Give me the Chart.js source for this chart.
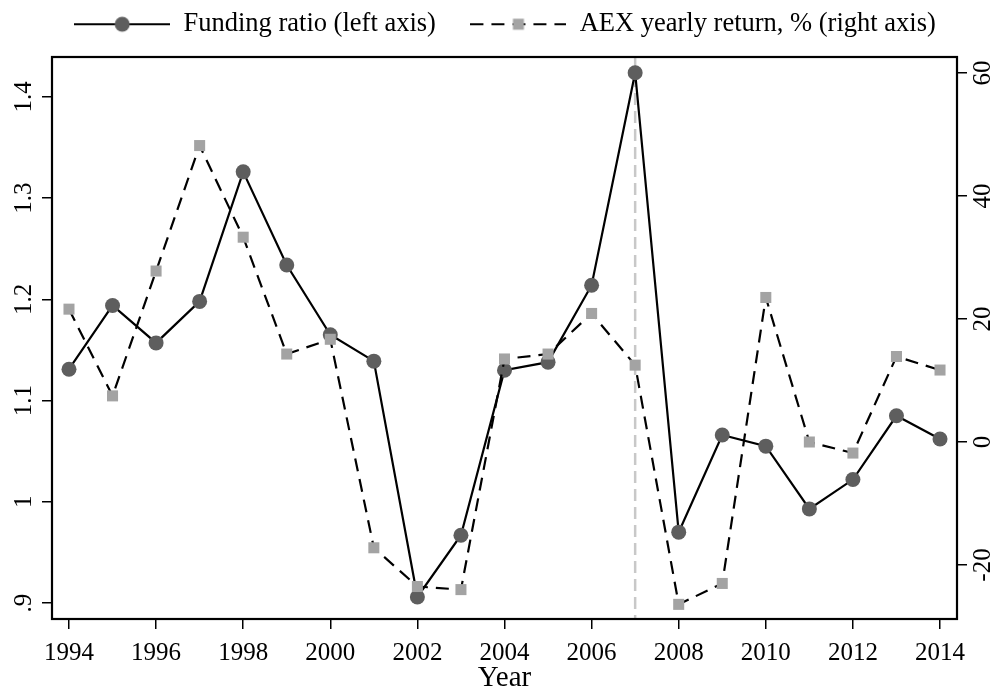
<!DOCTYPE html>
<html>
<head>
<meta charset="utf-8">
<script src="https://cdn.jsdelivr.net/npm/chart.js@4.4.1/dist/chart.umd.min.js"></script>
<style>
html, body { margin: 0; padding: 0; background: #fff; }
</style>
</head>
<body>
<canvas id="grafico" width="1000" height="691"></canvas>
<script>
// Years
const anos = [
1994,1995,1996,1997,1998,1999,2000,2001,2002,2003,
2004,2005,2006,2007,2008,2009,2010,2011,2012,2013,2014
];

// Funding ratio (left axis)
const fundingRatio = [
1.131,1.194,1.157,1.198,1.326,1.234,1.165,1.139,0.906,0.967,
1.130,1.138,1.214,1.424,0.970,1.066,1.055,0.993,1.022,1.085,1.062
];

// AEX yearly return, % (right axis)
const aexReturn = [
21.6,7.5,27.8,48.2,33.3,14.3,16.7,-17.2,-23.5,-24.0,
13.5,14.3,20.9,12.5,-26.4,-23.0,23.5,0.0,-1.8,13.9,11.7
];

// Tick labels
const xTicks = [1994,1996,1998,2000,2002,2004,2006,2008,2010,2012,2014];
const leftTicks = [0.9,1.0,1.1,1.2,1.3,1.4];
const rightTicks = [-20,0,20,40,60];
const lineaVertical = 2007;

const serif = '"Liberation Serif", "Times New Roman", serif';
Chart.defaults.font.family = serif;
Chart.defaults.color = '#000';

// legend swatch: line with marker in the middle
function muestra(dashed, marker) {
    const c = document.createElement('canvas');
    c.width = 96; c.height = 20;
    const g = c.getContext('2d');
    g.strokeStyle = '#000';
    g.lineWidth = 2.2;
    if (dashed) g.setLineDash([13, 8]);
    g.beginPath(); g.moveTo(0, 10); g.lineTo(96, 10); g.stroke();
    if (marker === 'circle') {
        g.fillStyle = '#5e5e5e';
        g.beginPath(); g.arc(48, 10, 7.5, 0, 2 * Math.PI); g.fill();
    } else {
        g.fillStyle = '#a3a3a3';
        g.fillRect(48 - 5.5, 10 - 5.5, 11, 11);
    }
    return c;
}

const marco = {
    id: 'marco',
    afterInit(chart) {
        const lg = chart.legend;
        const fitOrig = lg.fit.bind(lg);
        lg.fit = function () { fitOrig(); this.height = 54; };
    },
    beforeDatasetsDraw(chart) {
        const {ctx, chartArea, scales} = chart;
        const x = scales.x.getPixelForValue(lineaVertical);
        ctx.save();
        ctx.strokeStyle = '#c8c8c8';
        ctx.lineWidth = 2.5;
        ctx.setLineDash([12, 6]);
        ctx.beginPath();
        ctx.moveTo(x, chartArea.top);
        ctx.lineTo(x, chartArea.bottom);
        ctx.stroke();
        ctx.restore();
    },
    afterDatasetsDraw(chart) {
        const {ctx, chartArea} = chart;
        ctx.save();
        ctx.strokeStyle = '#000';
        ctx.lineWidth = 2.2;
        ctx.strokeRect(chartArea.left, chartArea.top, chartArea.right - chartArea.left, chartArea.bottom - chartArea.top);
        ctx.restore();
    }
};

const tickGrid = { drawOnChartArea: false, drawTicks: true, tickLength: 10, color: '#000', lineWidth: 1.5 };

new Chart(document.getElementById('grafico'), {
    type: 'line',
    data: {
        datasets: [{
            label: 'Funding ratio (left axis)',
            data: anos.map((a, i) => ({ x: a, y: fundingRatio[i] })),
            yAxisID: 'y',
            borderColor: '#000',
            borderWidth: 2.2,
            pointStyle: 'circle',
            pointRadius: 7.5,
            pointBorderWidth: 0,
            pointBackgroundColor: '#5e5e5e',
            order: 1
        }, {
            label: 'AEX yearly return, % (right axis)',
            data: anos.map((a, i) => ({ x: a, y: aexReturn[i] })),
            yAxisID: 'y1',
            borderColor: '#000',
            borderWidth: 2.2,
            borderDash: [13, 8],
            pointStyle: 'rect',
            pointRadius: 7.8,
            pointBorderWidth: 0,
            pointBackgroundColor: '#a3a3a3',
            order: 0
        }]
    },
    options: {
        responsive: false,
        animation: false,
        devicePixelRatio: 1,
        layout: { padding: { top: 3, left: 10, right: 0, bottom: 0 } },
        plugins: {
            tooltip: { enabled: false },
            legend: {
                position: 'top',
                labels: {
                    usePointStyle: true,
                    pointStyleWidth: 96,
                    padding: 8,
                    color: '#000',
                    font: { family: serif, size: 26.5 },
                    generateLabels: () => [
                        { text: 'Funding ratio (left axis)\u2003', pointStyle: muestra(false, 'circle'), fillStyle: 'transparent', strokeStyle: 'transparent', lineWidth: 0, hidden: false, datasetIndex: 0, fontColor: '#000' },
                        { text: 'AEX yearly return, % (right axis)', pointStyle: muestra(true, 'rect'), fillStyle: 'transparent', strokeStyle: 'transparent', lineWidth: 0, hidden: false, datasetIndex: 1, fontColor: '#000' }
                    ]
                }
            }
        },
        scales: {
            x: {
                type: 'linear',
                min: 1993.61,
                max: 2014.39,
                afterBuildTicks: s => { s.ticks = xTicks.map(v => ({ value: v })); },
                afterFit: s => { s.height = 72; },
                grid: tickGrid,
                border: { display: false },
                ticks: {
                    padding: 9,
                    maxRotation: 0,
                    font: { family: serif, size: 25 },
                    color: '#000',
                    callback: v => String(v)
                },
                title: {
                    display: true,
                    text: 'Year',
                    color: '#000',
                    font: { family: serif, size: 29, lineHeight: 1 },
                    padding: { top: 0, bottom: -2 }
                }
            },
            y: {
                type: 'linear',
                position: 'left',
                min: 0.8842,
                max: 1.4395,
                afterBuildTicks: s => { s.ticks = leftTicks.map(v => ({ value: v })); },
                afterFit: s => { s.width = 42; },
                grid: tickGrid,
                border: { display: false },
                ticks: {
                    minRotation: 90,
                    maxRotation: 90,
                    crossAlign: 'center',
                    padding: 2,
                    font: { family: serif, size: 25 },
                    color: '#000',
                    callback: v => (Math.abs(v - 1) < 1e-9 ? '1' : v.toFixed(1).replace(/^0/, ''))
                }
            },
            y1: {
                type: 'linear',
                position: 'right',
                min: -28.78,
                max: 62.6,
                afterBuildTicks: s => { s.ticks = rightTicks.map(v => ({ value: v })); },
                afterFit: s => { s.width = 43; },
                grid: tickGrid,
                border: { display: false },
                ticks: {
                    minRotation: 90,
                    maxRotation: 90,
                    crossAlign: 'center',
                    padding: 0,
                    font: { family: serif, size: 25 },
                    color: '#000',
                    callback: v => String(v)
                }
            }
        }
    },
    plugins: [marco]
});
</script>
</body>
</html>
